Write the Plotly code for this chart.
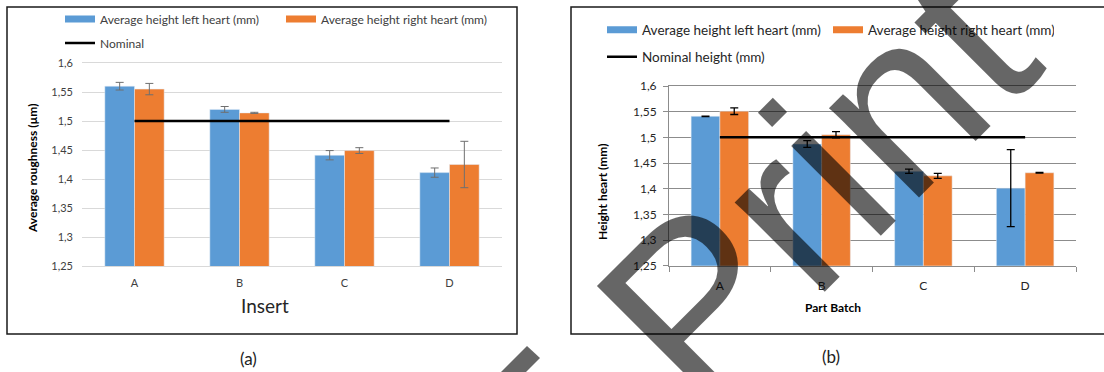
import plotly.graph_objects as go

W, H = 1104, 372

categories = ["A", "B", "C", "D"]

# Panel (a)
a_left = [1.560, 1.520, 1.441, 1.411]
a_left_err = [0.0066, 0.005, 0.008, 0.008]
a_right = [1.555, 1.514, 1.449, 1.425]
a_right_err = [0.0098, 0.001, 0.005, 0.040]
a_nominal = [1.5, 1.5, 1.5, 1.5]

# Panel (b)
b_left = [1.541, 1.487, 1.434, 1.401]
b_left_err = [0.0005, 0.0065, 0.004, 0.075]
b_right = [1.551, 1.505, 1.425, 1.431]
b_right_err = [0.0065, 0.006, 0.005, 0.0005]
b_nominal = [1.5, 1.5, 1.5, 1.5]

y_tickvals = [1.25, 1.3, 1.35, 1.4, 1.45, 1.5, 1.55, 1.6]
y_ticktext = ["1,25", "1,3", "1,35", "1,4", "1,45", "1,5", "1,55", "1,6"]

BLUE = "#5B9BD5"
ORANGE = "#ED7D31"
FONT = "Lato"
WATERMARK = "rgba(0,0,0,0.6)"


def px(x):
    return x / W


def py(y):
    return 1 - y / H


fig = go.Figure()

# ---------- panel (a) ----------
fig.add_trace(go.Bar(x=categories, y=a_left, marker_color=BLUE, showlegend=False,
                     error_y=dict(type="data", array=a_left_err, color="#6f6f6f", thickness=1, width=4),
                     xaxis="x", yaxis="y"))
fig.add_trace(go.Bar(x=categories, y=a_right, marker_color=ORANGE, showlegend=False,
                     error_y=dict(type="data", array=a_right_err, color="#6f6f6f", thickness=1, width=4),
                     xaxis="x", yaxis="y"))
fig.add_trace(go.Scatter(x=categories, y=a_nominal, mode="lines", line=dict(color="black", width=2.5),
                         name="Nominal", legend="legend2", xaxis="x", yaxis="y"))
# legend swatches
fig.add_trace(go.Scatter(x=[None], y=[None], mode="lines", line=dict(color=BLUE, width=7),
                         name="Average height left heart (mm)", legend="legend", xaxis="x", yaxis="y"))
fig.add_trace(go.Scatter(x=[None], y=[None], mode="lines", line=dict(color=ORANGE, width=7),
                         name="Average height right heart (mm)", legend="legend", xaxis="x", yaxis="y"))

# ---------- panel (b) ----------
fig.add_trace(go.Bar(x=categories, y=b_left, marker_color=BLUE, showlegend=False,
                     error_y=dict(type="data", array=b_left_err, color="black", thickness=1.3, width=4),
                     xaxis="x2", yaxis="y2"))
fig.add_trace(go.Bar(x=categories, y=b_right, marker_color=ORANGE, showlegend=False,
                     error_y=dict(type="data", array=b_right_err, color="black", thickness=1.3, width=4),
                     xaxis="x2", yaxis="y2"))
fig.add_trace(go.Scatter(x=categories, y=b_nominal, mode="lines", line=dict(color="black", width=2.5),
                         name="Nominal height (mm)", legend="legend4", xaxis="x2", yaxis="y2"))
fig.add_trace(go.Scatter(x=[None], y=[None], mode="lines", line=dict(color=BLUE, width=7),
                         name="Average height left heart (mm)", legend="legend3", xaxis="x2", yaxis="y2"))
fig.add_trace(go.Scatter(x=[None], y=[None], mode="lines", line=dict(color=ORANGE, width=7),
                         name="Average height right heart (mm)", legend="legend3", xaxis="x2", yaxis="y2"))

legend_common = dict(orientation="h", xanchor="left", yanchor="middle", itemwidth=30,
                     bgcolor="rgba(0,0,0,0)", borderwidth=0, traceorder="normal")

fig.update_layout(
    width=W, height=H,
    margin=dict(l=0, r=0, t=0, b=0, autoexpand=False),
    paper_bgcolor="white", plot_bgcolor="white",
    barmode="group", bargap=0.435, bargroupgap=0,
    font=dict(family=FONT, color="#404040"),
    legend=dict(x=px(60), y=py(19), entrywidth=176, font=dict(size=12, family=FONT, color="#404040"), **legend_common),
    legend2=dict(x=px(60), y=py(43), font=dict(size=12, family=FONT, color="#404040"), **legend_common),
    legend3=dict(x=px(602), y=py(30), entrywidth=181, font=dict(size=13.5, family=FONT, color="#262626"), **legend_common),
    legend4=dict(x=px(602), y=py(57), font=dict(size=13.5, family=FONT, color="#262626"), **legend_common),
    xaxis=dict(domain=[px(82), px(502)], anchor="y", showgrid=False, showline=True, mirror=True,
               linecolor="#d9d9d9", linewidth=1, ticks="", tickfont=dict(size=11, color="#404040"),
               ticklabelstandoff=7),
    yaxis=dict(domain=[py(266), py(63)], anchor="x", range=[1.25, 1.6], tickvals=y_tickvals,
               ticktext=y_ticktext, showgrid=True, gridcolor="#d9d9d9", gridwidth=1, showline=False,
               ticks="", zeroline=False, tickfont=dict(size=11, color="#404040"), ticklabelstandoff=8),
    xaxis2=dict(domain=[px(669), px(1076)], anchor="y2", showgrid=False, showline=True, mirror=True,
                linecolor="#8c8c8c", linewidth=1, ticks="outside", ticklen=5, tickcolor="#8c8c8c",
                tickson="boundaries", tickfont=dict(size=12, color="#262626"), ticklabelstandoff=9),
    yaxis2=dict(domain=[py(265.7), py(86)], anchor="x2", range=[1.25, 1.6], tickvals=y_tickvals,
                ticktext=y_ticktext, showgrid=True, gridcolor="#8c8c8c", gridwidth=1, showline=True,
                linecolor="#8c8c8c", ticks="outside", ticklen=5, tickcolor="#8c8c8c", zeroline=False,
                tickfont=dict(size=12, color="#262626"), ticklabelstandoff=4),
)

annotations = [
    dict(text="Average roughness (µm)", x=px(32), y=py(168), textangle=-90,
         font=dict(size=12, family=FONT, color="black", weight="bold")),
    dict(text="Insert", x=px(265), y=py(305), font=dict(size=19, family=FONT, color="#262626")),
    dict(text="Height heart (mm)", x=px(602), y=py(192), textangle=-90,
         font=dict(size=12, family=FONT, color="black", weight="bold")),
    dict(text="Part Batch", x=px(833), y=py(307),
         font=dict(size=12, family=FONT, color="black", weight="bold")),
    dict(text="(a)", x=px(248), y=py(358), font=dict(size=17, family=FONT, color="#222222")),
    dict(text="(b)", x=px(831), y=py(356), font=dict(size=17, family=FONT, color="#222222")),
    dict(text="Print", x=px(815), y=py(184), textangle=-45,
         font=dict(size=240, family="Liberation Sans", color=WATERMARK)),
]
for a in annotations:
    a.update(xref="paper", yref="paper", showarrow=False, xanchor="center", yanchor="middle")
fig.update_layout(annotations=annotations)

# panel frames
fig.add_shape(type="rect", xref="paper", yref="paper", x0=px(7), x1=px(517), y0=py(334), y1=py(7),
              line=dict(color="#1a1a1a", width=1.5), layer="below")
fig.add_shape(type="rect", xref="paper", yref="paper", x0=px(571), x1=px(1115), y0=py(334), y1=py(7),
              line=dict(color="#1a1a1a", width=1.5), layer="below")

# fragment of the watermark's preceding stroke (bottom edge)
frag = [(527, 346), (540, 358), (512, 386), (499, 374)]
frag_path = "M " + " L ".join(f"{px(x):.5f},{py(y):.5f}" for x, y in frag) + " Z"
fig.add_shape(type="path", xref="paper", yref="paper", path=frag_path,
              fillcolor=WATERMARK, line=dict(width=0), layer="above")

fig.write_html("out.html", config={"displayModeBar": False},
               post_script="document.body.style.margin='0';")
